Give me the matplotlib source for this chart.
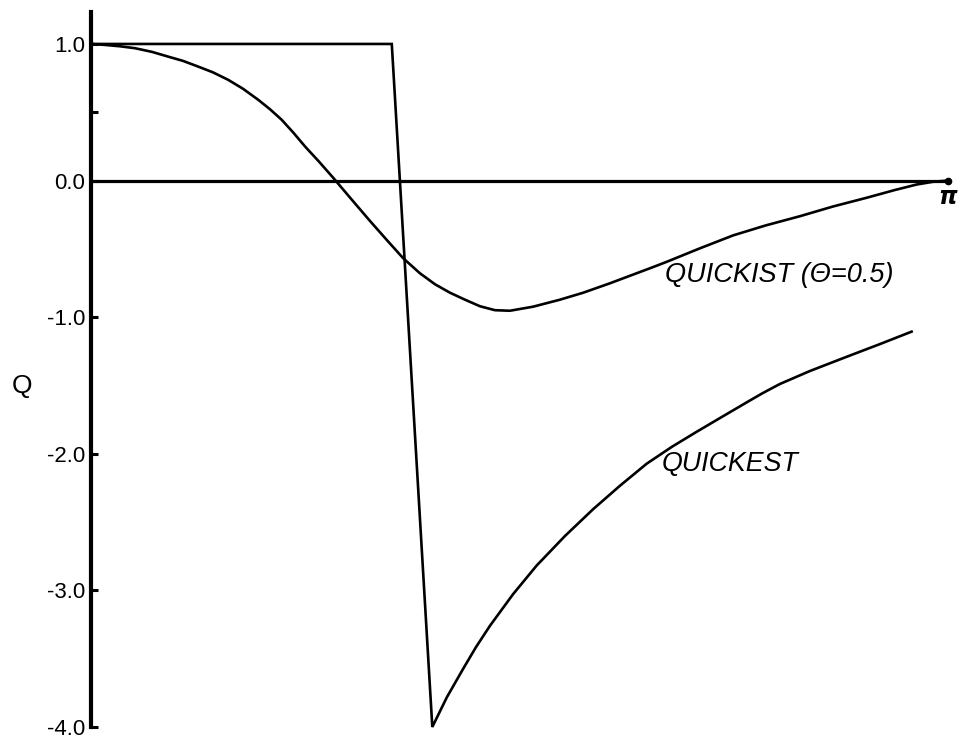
import numpy as np
import matplotlib
matplotlib.use("Agg")
import matplotlib.pyplot as plt

plt.rcParams['font.family'] = ['Liberation Sans', 'DejaVu Sans']

# Phase angle given as a fraction of pi
quickist_theta = [0.0, 0.0163, 0.0338, 0.0513, 0.0712, 0.0902, 0.1074, 0.1252,
                  0.1424, 0.1602, 0.1774, 0.1952, 0.2089, 0.2225, 0.2357, 0.2497,
                  0.2660, 0.2827, 0.3042, 0.3256, 0.3466, 0.3644, 0.3839, 0.4014,
                  0.4189, 0.4364, 0.4539, 0.4714, 0.4889, 0.5161, 0.5473, 0.5744,
                  0.6056, 0.6289, 0.6523, 0.6718, 0.7106, 0.7495, 0.7876, 0.8273,
                  0.8658, 0.9051, 0.9382, 0.9635, 0.9825, 1.0]
quickist_q = [1.0, 0.993, 0.983, 0.969, 0.942, 0.907, 0.876, 0.834,
              0.792, 0.737, 0.672, 0.591, 0.522, 0.445, 0.354, 0.250,
              0.139, 0.020, -0.139, -0.296, -0.445, -0.569, -0.679, -0.759,
              -0.821, -0.872, -0.920, -0.949, -0.953, -0.923, -0.872, -0.821,
              -0.752, -0.697, -0.642, -0.595, -0.496, -0.401, -0.328, -0.261,
              -0.190, -0.126, -0.069, -0.029, -0.009, 0.0]

quickest_theta = [0.0, 0.351, 0.3983, 0.4154, 0.4344, 0.4492, 0.4656, 0.4924,
                  0.5201, 0.5531, 0.5861, 0.6173, 0.6484, 0.6779, 0.7068, 0.7363,
                  0.7651, 0.7841, 0.8040, 0.8390, 0.8856, 0.9207, 0.9576]
quickest_q = [1.0, 1.0, -4.0, -3.781, -3.573, -3.416, -3.259, -3.029,
              -2.818, -2.602, -2.405, -2.234, -2.073, -1.949, -1.839, -1.730,
              -1.624, -1.555, -1.489, -1.394, -1.281, -1.197, -1.106]

y_ticks = [1.0, 0.0, -1.0, -2.0, -3.0, -4.0]
y_tick_labels = ["1.0", "0.0", "-1.0", "-2.0", "-3.0", "-4.0"]

fig = plt.figure(figsize=(9.65, 7.45), dpi=100)
ax = fig.add_axes([0.0943, 0.0242, 0.8880, 0.9597])

x1 = np.array(quickist_theta) * np.pi
x2 = np.array(quickest_theta) * np.pi

ax.plot(x1, quickist_q, color='black', lw=1.9, clip_on=False,
        solid_joinstyle='round')
ax.plot(x2, quickest_q, color='black', lw=1.9, clip_on=False,
        solid_joinstyle='miter')

# zero line, ending in a dot at pi
ax.plot([0, np.pi], [0, 0], color='black', lw=2.3, clip_on=False)
ax.plot([np.pi], [0], marker='o', ms=4.5, color='black', clip_on=False)

ax.set_xlim(0, np.pi)
ax.set_ylim(-4.0, 1.234)

for s in ['top', 'right', 'bottom']:
    ax.spines[s].set_visible(False)
ax.spines['left'].set_linewidth(3.0)

ax.set_xticks([])
ax.set_yticks(y_ticks)
ax.set_yticklabels(y_tick_labels, fontsize=16)
ax.set_yticks([0.5], minor=True)
ax.tick_params(axis='y', which='both', direction='in', length=5, width=2.2, pad=4)

ax.text(-0.0805, 0.477, "Q", transform=ax.transAxes, fontsize=19,
        ha='center', va='center')
ax.text(np.pi, -0.128, r"$\boldsymbol{\pi}$", fontsize=17,
        ha='center', va='center')

ax.text(0.670 * np.pi, -0.742, "QUICKIST (\u0398=0.5)", fontsize=19.5,
        style='italic', ha='left', va='baseline')
ax.text(0.666 * np.pi, -2.124, "QUICKEST", fontsize=19.3, style='italic',
        ha='left', va='baseline')

fig.savefig("out.png", dpi=100)
